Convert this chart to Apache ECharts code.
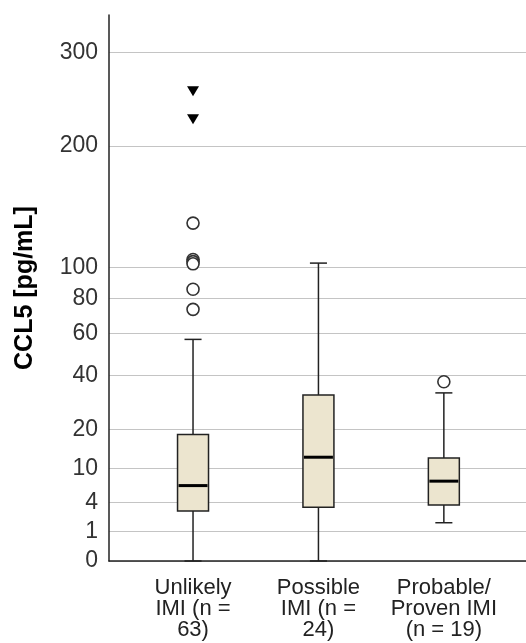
<!DOCTYPE html>
<html><head><meta charset="utf-8">
<script src="https://cdn.jsdelivr.net/npm/echarts@6/dist/echarts.min.js"></script>
<style>html,body{margin:0;padding:0;background:#fff}#c{width:526px;height:643px}</style>
</head><body><div id="c"></div>
<script>
// ---- data (values in pg/mL) ----
const categories = ['Unlikely\nIMI (n =\n63)', 'Possible\nIMI (n =\n24)', 'Probable/\nProven IMI\n(n = 19)'];
const whiskerLow = [0, 0, 1.7];
const q1 = [2.9, 3.35, 3.65];
const median = [6.6, 12.5, 7.4];
const q3 = [18.6, 32, 12.3];
const whiskerHigh = [57, 103, 32.8];
const outlierCategory = [0, 0, 0, 0, 0, 0, 2];
const outlierValues = [132.5, 105.5, 104, 102.5, 85.7, 73.5, 37.3];
const extremeCategory = [0, 0];
const extremeValues = [256, 226.5];
const yTicks = [0, 1, 4, 10, 20, 40, 60, 80, 100, 200, 300];
const yMax = 346;

// square-root scale transform
const t = v => Math.sqrt(v);
const FONT = "'Liberation Sans', Arial, sans-serif";

const boxData = categories.map((c, i) => [i, t(whiskerLow[i]), t(q1[i]), t(median[i]), t(q3[i]), t(whiskerHigh[i])]);
const outlierData = outlierValues.map((v, i) => [outlierCategory[i], t(v)]);
const extremeData = extremeValues.map((v, i) => [extremeCategory[i], t(v)]);

function renderBox(params, api) {
  const i = api.value(0);
  const lo = api.coord([i, api.value(1)]);
  const b1 = api.coord([i, api.value(2)]);
  const md = api.coord([i, api.value(3)]);
  const b3 = api.coord([i, api.value(4)]);
  const hi = api.coord([i, api.value(5)]);
  const unit = api.size([1, 0])[0];
  const bw = unit * 0.247, cw = unit * 0.136;
  const x = lo[0];
  const ls = { stroke: '#222', lineWidth: 1.5 };
  return {
    type: 'group', children: [
      { type: 'line', shape: { x1: x, y1: hi[1], x2: x, y2: b3[1] }, style: ls },
      { type: 'line', shape: { x1: x, y1: b1[1], x2: x, y2: lo[1] }, style: ls },
      { type: 'line', shape: { x1: x - cw / 2, y1: hi[1], x2: x + cw / 2, y2: hi[1] }, style: ls },
      { type: 'line', shape: { x1: x - cw / 2, y1: lo[1], x2: x + cw / 2, y2: lo[1] }, style: ls },
      { type: 'rect', shape: { x: x - bw / 2, y: b3[1], width: bw, height: b1[1] - b3[1] }, style: { fill: '#ece5cf', stroke: '#222', lineWidth: 1.5 } },
      { type: 'line', shape: { x1: x - bw / 2 + 1, y1: md[1], x2: x + bw / 2 - 1, y2: md[1] }, style: { stroke: '#000', lineWidth: 3 } }
    ]
  };
}

const chart = echarts.init(document.getElementById('c'), null, { renderer: 'canvas' });
chart.setOption({
  animation: false,
  backgroundColor: '#fff',
  grid: { left: 109, right: 0, top: 15, bottom: 82 },
  xAxis: {
    type: 'value', min: -0.67, max: 2.655,
    axisLine: { show: true, onZero: false, lineStyle: { color: '#222', width: 1.5 } },
    axisTick: { show: false },
    splitLine: { show: false },
    axisLabel: {
      customValues: [0, 1, 2],
      formatter: v => categories[Math.round(v)],
      fontFamily: FONT, fontSize: 22, lineHeight: 21, color: '#222', margin: 16, align: 'center'
    }
  },
  yAxis: {
    type: 'value', min: 0, max: t(yMax),
    name: 'CCL5 [pg/mL]', nameLocation: 'middle', nameGap: 71,
    nameTextStyle: { fontFamily: FONT, fontWeight: 'bold', fontSize: 25, color: '#000' },
    axisLine: { show: true, onZero: false, lineStyle: { color: '#222', width: 1.5 } },
    axisTick: { show: false, customValues: yTicks.map(t) },
    splitLine: { show: true, lineStyle: { color: '#c4c4c4', width: 1 } },
    axisLabel: {
      customValues: yTicks.map(t),
      formatter: v => String(Math.round(v * v)),
      fontFamily: FONT, fontSize: 23, color: '#333', margin: 11
    }
  },
  series: [
    { type: 'custom', renderItem: renderBox, data: boxData, encode: { x: 0, y: [1, 2, 3, 4, 5] }, z: 3, clip: false },
    { type: 'scatter', data: outlierData, symbol: 'circle', symbolSize: 12,
      itemStyle: { color: '#fff', opacity: 1, borderColor: '#333', borderWidth: 1.6 }, z: 4 },
    { type: 'scatter', data: extremeData, symbol: 'triangle', symbolRotate: 180, symbolSize: [12, 10],
      itemStyle: { color: '#000', opacity: 1 }, z: 4 }
  ]
});
</script></body></html>
